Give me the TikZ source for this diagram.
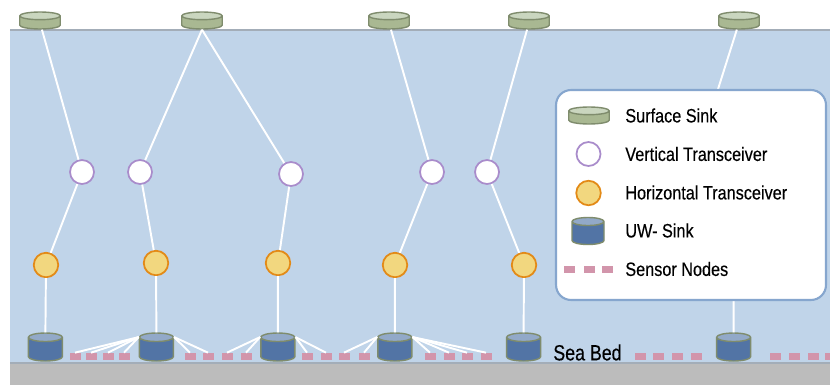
\documentclass[tikz,border=0pt]{standalone}
\usepackage{fontspec}
\setmainfont[FakeStretch=0.84,FakeBold=0.3]{Liberation Sans}
\newfontfamily\bedfont[FakeStretch=0.81,FakeBold=0.3]{Liberation Sans}
\usetikzlibrary{shapes.geometric}

\definecolor{seawater}{HTML}{C0D4E9}
\definecolor{seabed}{HTML}{BCBCBC}
\definecolor{shoreline}{HTML}{A3ADB8}
\definecolor{sinkrim}{HTML}{7F8C6D}
\definecolor{surfbody}{HTML}{A9B892}
\definecolor{surftop}{HTML}{CAD6BF}
\definecolor{uwbody}{HTML}{5274A5}
\definecolor{uwtop}{HTML}{92A9C8}
\definecolor{vtrim}{HTML}{A98CCB}
\definecolor{htrim}{HTML}{E38A17}
\definecolor{htfill}{HTML}{F2D77F}
\definecolor{sensorfill}{HTML}{D295AB}
\definecolor{legendrim}{HTML}{86A6CE}

\tikzset{
  surfsink/.style={draw=sinkrim, line width=0.8pt, shape=cylinder, shape border rotate=90,
    aspect=0.19, inner sep=0pt, minimum height=0.34cm, anchor=shape center,
    execute at begin node={\rule{0.81cm}{0pt}},
    cylinder uses custom fill, cylinder body fill=surfbody, cylinder end fill=surftop},
  uwsink/.style={draw=sinkrim, line width=0.8pt, shape=cylinder, shape border rotate=90,
    aspect=0.25, inner sep=0pt, minimum height=0.56cm, anchor=shape center,
    execute at begin node={\rule{#1}{0pt}},
    cylinder uses custom fill, cylinder body fill=uwbody, cylinder end fill=uwtop},
  uwsink/.default=0.68cm,
  vtrans/.style={circle, draw=vtrim, fill=white, line width=1pt, inner sep=0pt, minimum size=0.48cm},
  htrans/.style={circle, draw=htrim, fill=htfill, line width=1pt, inner sep=0pt, minimum size=0.49cm},
  sensor/.style={fill=sensorfill, inner sep=0pt, minimum width=0.22cm, minimum height=0.14cm},
  link/.style={draw=white, line width=1.1pt},
  legendtext/.style={anchor=west, inner sep=0pt, font=\fontsize{11}{13}\selectfont}
}

\begin{document}
\begin{tikzpicture}[x=0.02cm, y=-0.02cm]
\useasboundingbox (0, 0) rectangle (830, 385);

% 1. water and sea floor
\fill[seawater] (10, 30) rectangle (830, 363);
\draw[shoreline, line width=0.6pt] (10, 30) -- (830, 30);
\fill[seabed] (10, 363) rectangle (830, 385);
\draw[shoreline, line width=0.8pt] (10, 363) -- (830, 363);

% 2. sinks and transceivers
\foreach \nm/\loc in
    {surfA/40, surfB/202, surfC/389, surfD/529, surfE/739}
    {\node[surfsink] (\nm) at (\loc, 20.5) {};}
\foreach \nm/\loc in
    {uwA/45.4, uwB/156.4, uwC/277.8, uwD/394.8, uwE/523.6, uwF/733.6}
    {\node[uwsink] (\nm) at (\loc, 347) {};}
\foreach \nm/\loc/\y in
    {vtA/82/172, vtB/140/172, vtC/291/174, vtD/432/172, vtE/487/172}
    {\node[vtrans] (\nm) at (\loc, \y) {};}
\foreach \nm/\loc/\y in
    {htA/46/265, htB/156/263, htC/278/263, htD/395/265, htE/524/265}
    {\node[htrans] (\nm) at (\loc, \y) {};}

% 3. sensor nodes on the bed
\foreach \nm/\loc in
    {snA/75, snB/91, snC/108, snD/124, snE/190, snF/208, snG/227, snH/246,
     snI/307, snJ/326, snK/344, snL/364, snM/430, snN/449, snO/467, snP/486,
     snQ/640, snR/658, snS/677, snT/696, snU/775, snV/794, snW/813}
    {\node[sensor] (\nm) at (\loc, 356.5) {};}
\fill[sensorfill] (825, 353) rectangle (830, 360);
\node[anchor=west, inner sep=0pt, font=\bedfont\fontsize{12.5}{14}\selectfont] (bed) at (553, 352.5) {Sea Bed};

% 4. links
\draw[link] (surfA) -- (vtA);
\draw[link] (surfB.south) -- (vtB);
\draw[link] (surfB.south) -- (vtC);
\draw[link] (surfC) -- (vtD);
\draw[link] (surfD) -- (vtE);
\foreach \a/\b in {vtA/htA, vtB/htB, vtC/htC, vtD/htD, vtE/htE}
    {\draw[link] (\a) -- (\b);}
\foreach \a/\b in {htA/uwA, htB/uwB, htC/uwC, htD/uwD, htE/uwE}
    {\draw[link] (\a) -- (\b.north);}
\foreach \a/\b in
    {uwB.145/snA, uwB.145/snB, uwB.145/snC, uwB.145/snD, uwB.35/snE, uwB.35/snF,
     uwC.145/snG, uwC.145/snH, uwC.35/snI, uwC.35/snJ,
     uwD.145/snK, uwD.145/snL, uwD.35/snM, uwD.35/snN, uwD.35/snO, uwD.35/snP}
    {\draw[link] (\a) -- (\b.north);}
\coordinate (hiddenE) at (700, 146);
\coordinate (hiddenF) at (733.6, 290);
\draw[link] (surfE) -- (hiddenE);
\draw[link] (hiddenF) -- (uwF.north);

% 5. legend
\node[draw=legendrim, fill=white, line width=1.2pt, rounded corners=0.3cm, inner sep=0pt,
      minimum width=5.4cm, minimum height=4.2cm] (legend) at (691, 195) {};
\node[surfsink] (keySurf) at (589, 115.5) {};
\node[vtrans] (keyVt) at (588.5, 154) {};
\node[htrans] (keyHt) at (588.5, 193) {};
\node[uwsink=0.64cm, minimum height=0.54cm] (keyUw) at (588, 231) {};
\foreach \nm/\loc in {keySnA/569, keySnB/589, keySnC/607}
    {\node[sensor] (\nm) at (\loc, 269.5) {};}
\foreach \nm/\y/\txt in
    {txtSurf/115.5/Surface Sink, txtVt/154/Vertical Transceiver,
     txtHt/192.5/Horizontal Transceiver, txtUw/230.5/UW- Sink, txtSn/269/Sensor Nodes}
    {\node[legendtext] (\nm) at (625, \y) {\txt};}
\end{tikzpicture}
\end{document}
